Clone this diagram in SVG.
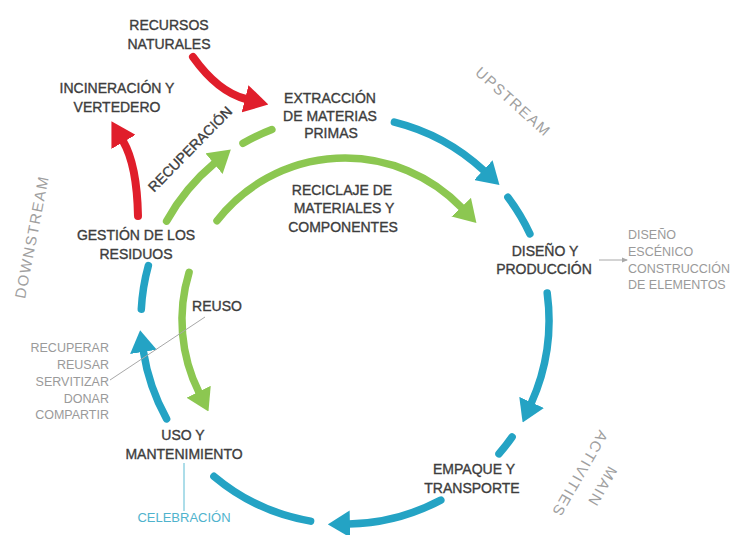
<svg xmlns="http://www.w3.org/2000/svg" width="730" height="535" viewBox="0 0 730 535">
  <defs>
    <style>
      .lbl { font-family: "Liberation Sans", Arial, sans-serif; font-size: 14px; fill: #3d3d3d; stroke: #3d3d3d; stroke-width: 0.35px; text-anchor: middle; }
      .sub { font-family: "Liberation Sans", Arial, sans-serif; font-size: 12.5px; fill: #9a9a9a; }
      .side { font-family: "Liberation Sans", Arial, sans-serif; font-size: 15px; fill: #a0a0a0; text-anchor: middle; letter-spacing: 1.5px; }
      .teal { fill: none; stroke: #24a3c4; stroke-width: 7.5; stroke-linecap: round; }
      .green { fill: none; stroke: #8cc751; stroke-width: 7.5; stroke-linecap: round; }
      .red { fill: none; stroke: #e01e2b; stroke-width: 8; stroke-linecap: round; }
      .thin { fill: none; stroke: #a8a8a8; stroke-width: 1; }
    </style>
    <marker id="ahTeal" viewBox="0 0 22 27" refX="1" refY="13.5" markerWidth="22" markerHeight="27" markerUnits="userSpaceOnUse" orient="auto">
      <path d="M0,0 L22,13.5 L0,27 Z" fill="#24a3c4"/>
    </marker>
    <marker id="ahGreen" viewBox="0 0 22 27" refX="1" refY="13.5" markerWidth="22" markerHeight="27" markerUnits="userSpaceOnUse" orient="auto">
      <path d="M0,0 L22,13.5 L0,27 Z" fill="#8cc751"/>
    </marker>
    <marker id="ahRed" viewBox="0 0 24 28" refX="1" refY="14" markerWidth="24" markerHeight="28" markerUnits="userSpaceOnUse" orient="auto">
      <path d="M0,0 L24,14 L0,28 Z" fill="#e01e2b"/>
    </marker>
    <marker id="ahThin" viewBox="0 0 6 6" refX="5" refY="3" markerWidth="6" markerHeight="6" markerUnits="userSpaceOnUse" orient="auto">
      <path d="M0,0.5 L6,3 L0,5.5 Z" fill="#a8a8a8"/>
    </marker>
  </defs>

  <rect width="730" height="535" fill="#ffffff"/>

  <!-- connectors: main cycle (teal), loops (green), inputs/outputs (red) -->
  <g id="connectors">
    <path class="teal" d="M394.4,122.1 A204,204 0 0 1 484.1,170.8" marker-end="url(#ahTeal)"/>
    <path class="teal" d="M507.9,197.2 A204,204 0 0 1 529.9,233.8"/>
    <path class="teal" d="M547.2,293.0 A204,204 0 0 1 531.2,403.3" marker-end="url(#ahTeal)"/>
    <path class="teal" d="M512.1,437.0 A204,204 0 0 1 499.0,453.8"/>
    <path class="teal" d="M440.8,500.1 A204,204 0 0 1 348.9,524.0" marker-end="url(#ahTeal)"/>
    <path class="teal" d="M310.6,521.1 A204,204 0 0 1 213.9,476.3"/>
    <path class="teal" d="M166.6,418.9 A204,204 0 0 1 143.3,350.9" marker-end="url(#ahTeal)"/>
    <path class="teal" d="M141.3,309.3 A204,204 0 0 1 148.4,265.5"/>

    <path class="green" d="M166.6,221.1 A204,204 0 0 1 214.7,163.0" marker-end="url(#ahGreen)"/>
    <path class="green" d="M243.0,143.3 A204,204 0 0 1 271.9,129.5"/>
    <path class="green" d="M217.0,220.7 A162,162 0 0 1 461.9,207.9" marker-end="url(#ahGreen)"/>
    <path class="green" d="M189.1,272.3 A163,163 0 0 0 199.1,392.7" marker-end="url(#ahGreen)"/>

    <path class="red" d="M193,57 Q218,92 246,99" marker-end="url(#ahRed)"/>
    <path class="red" d="M138,216 Q137,165 123,141" marker-end="url(#ahRed)"/>

    <line class="thin" x1="205" y1="317" x2="110" y2="380"/>
    <line class="thin" x1="599" y1="260" x2="627" y2="260" marker-end="url(#ahThin)"/>
    <line x1="184" y1="463" x2="184" y2="511" stroke="#5bbbd3" stroke-width="1"/>
  </g>

  <g id="recursos">
    <text class="lbl" x="169" y="30">RECURSOS</text>
    <text class="lbl" x="169" y="48.5">NATURALES</text>
  </g>
  <g id="incineracion">
    <text class="lbl" x="117" y="93">INCINERACIÓN Y</text>
    <text class="lbl" x="117" y="112">VERTEDERO</text>
  </g>
  <g id="extraccion">
    <text class="lbl" x="330" y="103">EXTRACCIÓN</text>
    <text class="lbl" x="330" y="120.5">DE MATERIAS</text>
    <text class="lbl" x="331" y="138">PRIMAS</text>
  </g>
  <g id="reciclaje">
    <text class="lbl" x="342" y="195">RECICLAJE DE</text>
    <text class="lbl" x="344" y="213">MATERIALES Y</text>
    <text class="lbl" x="343" y="232">COMPONENTES</text>
  </g>
  <g id="recuperacion">
    <text class="lbl" transform="translate(190,149) rotate(-45.5)" y="5">RECUPERACIÓN</text>
  </g>
  <g id="diseno">
    <text class="lbl" x="545" y="256">DISEÑO Y</text>
    <text class="lbl" x="544" y="274">PRODUCCIÓN</text>
  </g>
  <g id="diseno-detalle">
    <text class="sub" x="628" y="238.5">DISEÑO</text>
    <text class="sub" x="628" y="255.5">ESCÉNICO</text>
    <text class="sub" x="628" y="272.5">CONSTRUCCIÓN</text>
    <text class="sub" x="628" y="288.5">DE ELEMENTOS</text>
  </g>
  <g id="gestion">
    <text class="lbl" x="136" y="240">GESTIÓN DE LOS</text>
    <text class="lbl" x="136" y="259">RESIDUOS</text>
  </g>
  <g id="reuso">
    <text class="lbl" x="217" y="311">REUSO</text>
  </g>
  <g id="reuso-detalle">
    <text class="sub" x="109" y="351.5" text-anchor="end">RECUPERAR</text>
    <text class="sub" x="109" y="369" text-anchor="end">REUSAR</text>
    <text class="sub" x="109" y="386" text-anchor="end">SERVITIZAR</text>
    <text class="sub" x="109" y="402.5" text-anchor="end">DONAR</text>
    <text class="sub" x="109" y="418.5" text-anchor="end">COMPARTIR</text>
  </g>
  <g id="uso">
    <text class="lbl" x="183" y="440">USO Y</text>
    <text class="lbl" x="184" y="459">MANTENIMIENTO</text>
  </g>
  <g id="celebracion">
    <text x="184" y="521.5" font-family="Liberation Sans, Arial, sans-serif" font-size="13" fill="#4fb3cd" text-anchor="middle">CELEBRACIÓN</text>
  </g>
  <g id="empaque">
    <text class="lbl" x="474" y="474">EMPAQUE Y</text>
    <text class="lbl" x="472" y="493">TRANSPORTE</text>
  </g>

  <g id="phases">
    <text class="side" transform="translate(513,102) rotate(42)" y="5">UPSTREAM</text>
    <text class="side" transform="translate(32,237) rotate(-79)" y="5">DOWNSTREAM</text>
    <g transform="translate(591,480) rotate(120)">
      <text class="side" y="-8">MAIN</text>
      <text class="side" y="18">ACTIVITIES</text>
    </g>
  </g>
</svg>
